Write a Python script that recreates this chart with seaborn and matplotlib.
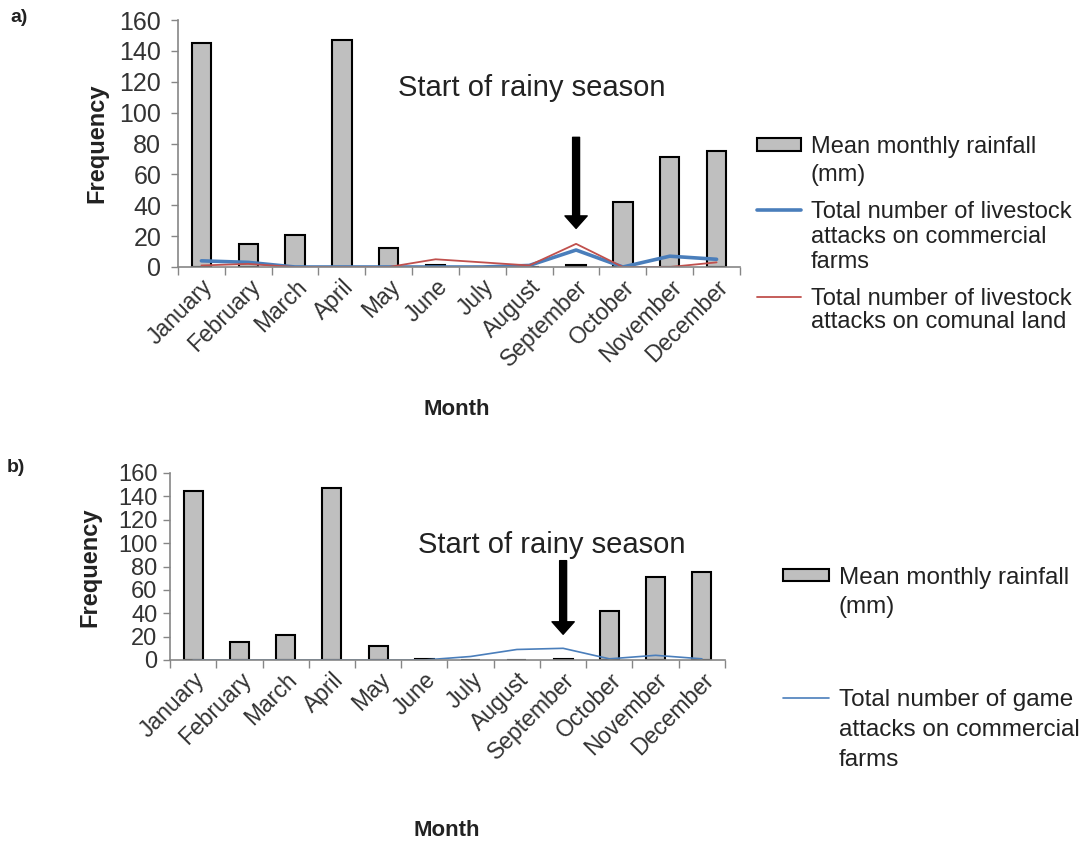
import numpy as np
import matplotlib
matplotlib.use("Agg")
import matplotlib.pyplot as plt
import seaborn as sns
from matplotlib.patches import Patch
from matplotlib.lines import Line2D

# ---- data ----
months = ["January", "February", "March", "April", "May", "June", "July",
          "August", "September", "October", "November", "December"]
rainfall = [145, 15, 21, 147, 12, 1, 0, 0, 1, 42, 71, 75]
livestock_commercial = [4, 3, 0, 0, 0, 0, 0, 1, 11, 0, 7, 5]
livestock_communal = [1, 2, 0, 0, 0, 5, 3, 1, 15, 0, 0, 3]
game_commercial = [0, 0, 0, 0, 0, 0, 3, 9, 10, 1, 4, 1]
y_ticks = [0, 20, 40, 60, 80, 100, 120, 140, 160]

BAR_FILL = "#BFBFBF"
AXIS_GREY = "#868686"
BLUE = "#4A7EBB"
RED = "#C0504D"
TEXT = "#222222"

sns.set_theme(style="white")
plt.rcParams["font.family"] = ["Liberation Sans", "DejaVu Sans"]

W, H = 1090, 844
fig = plt.figure(figsize=(W / 100, H / 100), dpi=100)


def px_axes(left, right, bottom, top):
    return fig.add_axes([left / W, 1 - bottom / H, (right - left) / W, (bottom - top) / H])


def style_axis(ax, ytick_size, ytick_pad):
    pos = np.arange(len(months))
    ax.set_xlim(-0.5, len(months) - 0.5)
    ax.set_ylim(0, 160)
    ax.set_yticks(y_ticks)
    ax.tick_params(axis="y", labelsize=ytick_size, colors="#333333",
                   length=5, width=1, color=AXIS_GREY, left=True,
                   direction="out", pad=ytick_pad)
    # category boundaries carry the tick marks, names sit under the bars
    ax.set_xticks(np.arange(-0.5, len(months), 1))
    ax.set_xticklabels([])
    ax.set_xticks(pos, minor=True)
    ax.set_xticklabels(months, minor=True, rotation=45, ha="right",
                       rotation_mode="anchor", fontsize=16.5, color="#333333")
    ax.tick_params(axis="x", which="major", length=6, width=1, color=AXIS_GREY,
                   bottom=True, direction="out")
    ax.tick_params(axis="x", which="minor", length=0, pad=6)
    for side in ("top", "right"):
        ax.spines[side].set_visible(False)
    for side in ("left", "bottom"):
        ax.spines[side].set_color(AXIS_GREY)
        ax.spines[side].set_linewidth(1.2)
    ax.set_xlabel("")
    ax.set_ylabel("")


def legend_entry(handle, lines, y, hx, handleheight=0.7, size=17, line_gap=27,
                 handle_px=44):
    """One legend row: handle beside the first line, the rest stacked below."""
    fs_px = size * 100 / 72
    text_x = hx + handle_px + 10
    leg = fig.legend(handles=[handle], labels=[lines[0]], loc="center left",
                     bbox_to_anchor=(hx / W, 1 - y / H), frameon=False,
                     borderpad=0, borderaxespad=0, handlelength=handle_px / fs_px,
                     handleheight=handleheight, handletextpad=10 / fs_px,
                     prop={"size": size})
    for t in leg.get_texts():
        t.set_color(TEXT)
    for i, line in enumerate(lines[1:], start=1):
        fig.text(text_x / W, 1 - (y + i * line_gap) / H, line, fontsize=size,
                 va="center", ha="left", color=TEXT)


pos = np.arange(len(months))
arrow_style = dict(facecolor="black", edgecolor="black", width=5,
                   headwidth=16, headlength=9, shrink=0)

# ---- panel a ----
ax_a = px_axes(178, 740, 267, 20)
sns.barplot(x=months, y=rainfall, color=BAR_FILL, edgecolor="black",
            linewidth=1.5, width=0.41, saturation=1, ax=ax_a)
sns.lineplot(x=pos, y=livestock_commercial, color=BLUE, linewidth=2.6, ax=ax_a)
sns.lineplot(x=pos, y=livestock_communal, color=RED, linewidth=1.3, ax=ax_a)
style_axis(ax_a, 18, 7)
ax_a.text(7.06, 116, "Start of rainy season", fontsize=21, ha="center",
          va="center", color=TEXT)
ax_a.annotate("", xy=(8, 25), xytext=(8, 84), arrowprops=arrow_style)

# ---- panel b ----
ax_b = px_axes(170, 725, 660, 473)
sns.barplot(x=months, y=rainfall, color=BAR_FILL, edgecolor="black",
            linewidth=1.5, width=0.41, saturation=1, ax=ax_b)
sns.lineplot(x=pos, y=game_commercial, color=BLUE, linewidth=1.2, ax=ax_b)
style_axis(ax_b, 17, 4)
ax_b.text(7.75, 98, "Start of rainy season", fontsize=21, ha="center",
          va="center", color=TEXT)
ax_b.annotate("", xy=(8, 22), xytext=(8, 85), arrowprops=arrow_style)

# ---- axis titles and panel tags ----
fig.text(97 / W, 1 - 143 / H, "Frequency", rotation=90, fontsize=17,
         fontweight="bold", ha="center", va="center", color=TEXT)
fig.text(90 / W, 1 - 567 / H, "Frequency", rotation=90, fontsize=17,
         fontweight="bold", ha="center", va="center", color=TEXT)
fig.text(457 / W, 1 - 410 / H, "Month", fontsize=16, fontweight="bold",
         ha="center", va="center", color=TEXT)
fig.text(447 / W, 1 - 830 / H, "Month", fontsize=16, fontweight="bold",
         ha="center", va="center", color=TEXT)
fig.text(19 / W, 1 - 18 / H, "a)", fontsize=14, fontweight="bold",
         ha="center", va="center", color=TEXT)
fig.text(16 / W, 1 - 468 / H, "b)", fontsize=14, fontweight="bold",
         ha="center", va="center", color=TEXT)

# ---- legends ----
bar_handle = Patch(facecolor=BAR_FILL, edgecolor="black", linewidth=1.5)
legend_entry(bar_handle, ["Mean monthly rainfall", "(mm)"], 147, 757,
             handleheight=0.45, line_gap=28)
legend_entry(Line2D([], [], color=BLUE, linewidth=2.6),
             ["Total number of livestock", "attacks on commercial", "farms"],
             212, 757, line_gap=25)
legend_entry(Line2D([], [], color=RED, linewidth=1.3),
             ["Total number of livestock", "attacks on comunal land"],
             299, 757, line_gap=23)

legend_entry(bar_handle, ["Mean monthly rainfall", "(mm)"], 578, 783,
             handleheight=0.4, line_gap=29, size=17.5, handle_px=46)
legend_entry(Line2D([], [], color=BLUE, linewidth=1.2),
             ["Total number of game", "attacks on commercial", "farms"],
             700, 783, line_gap=30, size=17.5, handle_px=46)

fig.savefig("out.png", dpi=100)
